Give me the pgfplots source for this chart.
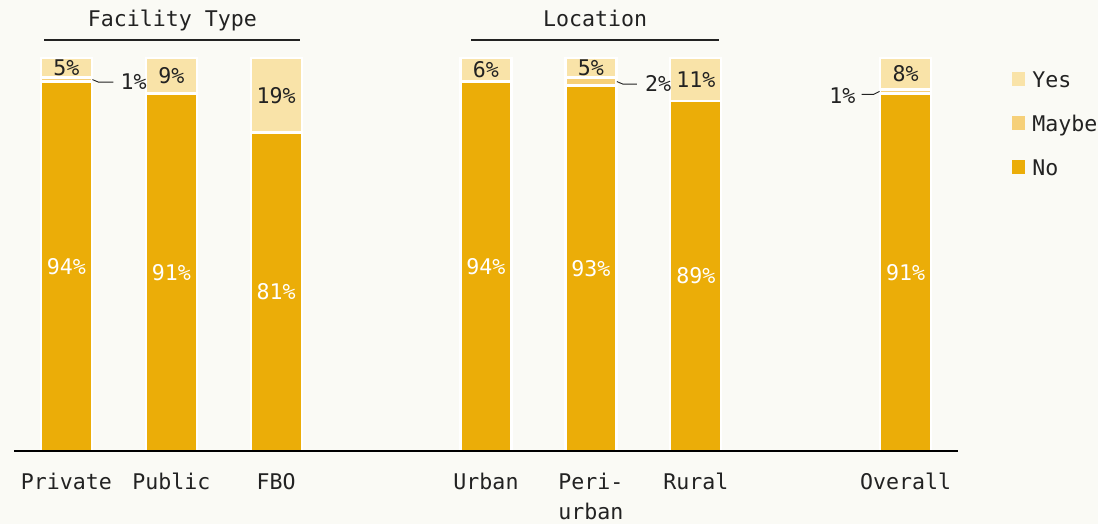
\documentclass[border=0pt]{standalone}
\usepackage{pgfplots}
\pgfplotsset{compat=1.18}
\usepackage{pgfplotstable}
\usepackage{fontspec}
\setmainfont{DejaVu Sans Mono}
\definecolor{bg}{RGB}{250,250,245}
\definecolor{cno}{RGB}{235,173,8}
\definecolor{cmaybe}{RGB}{246,208,121}
\definecolor{cyes}{RGB}{249,227,168}
\definecolor{txt}{RGB}{34,34,34}

\pgfplotstableread{
x No Maybe Yes
0 94 1 5
1 91 0 9
2 81 0 19
4 94 0 6
5 93 2 5
6 89 0 11
8 91 1 8
}\data
\pgfplotstableread{
x y lab
0 93.9 1
5 93.4 2
}\mayberight
\pgfplotstableread{
x y lab
8 90.3 1
}\maybeleft

\pgfplotsset{mybar/.style={ybar, bar width=51pt, bar shift=0pt, draw=white, line width=2.4pt}}

\begin{document}
\color{txt}
\fontsize{21.6}{30}\selectfont
\begin{tikzpicture}[font=\fontsize{21.6}{30}\selectfont]
\fill[bg] (0,0) rectangle (1098pt,524pt);
\begin{axis}[
  at={(14pt,73pt)}, anchor=south west,
  scale only axis, width=944pt, height=393pt,
  xmin=-0.5, xmax=8.5, ymin=0, ymax=100,
  clip=false,
  axis x line*=bottom, axis y line=none,
  x axis line style={-, line width=1.2pt, draw=black},
  axis on top,
  xtick={0,1,2,4,5,6,8},
  xticklabels={Private,Public,FBO,Urban,{Peri-\\urban},Rural,Overall},
  xticklabel style={anchor=north, align=center, yshift=-22pt, inner sep=0pt, font=\fontsize{21.6}{30}\selectfont, text=txt},
  major tick length=0pt,
  ytick=\empty,
  /pgf/number format/assume math mode=true,
  legend cell align=left,
  legend style={at={(axis description cs:1.057,0.967)}, anchor=north west, draw=none, fill=none, inner sep=0pt, row sep=28pt, column sep=7pt,
     nodes={inner sep=0pt, text height=16pt, text depth=0pt, font=\fontsize{21.6}{30}\selectfont, text=txt}},
]
\addplot[mybar, fill=cyes, legend image code/.code={\fill[cyes] (0pt,-5.5pt) rectangle (11pt,5.5pt);}]
  table[x=x, y expr=\thisrow{No}+\thisrow{Maybe}+\thisrow{Yes}] {\data};
\addlegendentry{Yes}
\addplot[mybar, fill=cmaybe, legend image code/.code={\fill[cmaybe] (0pt,-5.5pt) rectangle (11pt,5.5pt);}]
  table[x=x, y expr=\thisrow{No}+\thisrow{Maybe}] {\data};
\addlegendentry{Maybe}
\addplot[mybar, fill=cno, legend image code/.code={\fill[cno] (0pt,-5.5pt) rectangle (11pt,5.5pt);}]
  table[x=x, y=No] {\data};
\addlegendentry{No}

% labels inside No
\addplot[draw=none, mark=none, forget plot, point meta=explicit,
  nodes near coords={\pgfmathprintnumber{\pgfplotspointmeta}\%},
  every node near coord/.append style={anchor=center, text=white, inner sep=0pt}]
  table[x=x, y expr=\thisrow{No}/2, meta=No] {\data};
% labels inside Yes
\addplot[draw=none, mark=none, forget plot, point meta=explicit,
  nodes near coords={\pgfmathprintnumber{\pgfplotspointmeta}\%},
  every node near coord/.append style={anchor=center, text=txt, inner sep=0pt}]
  table[x=x, y expr=\thisrow{No}+\thisrow{Maybe}+\thisrow{Yes}/2, meta=Yes] {\data};
% maybe labels
\addplot[draw=none, mark=none, forget plot, point meta=explicit,
  nodes near coords={\pgfmathprintnumber{\pgfplotspointmeta}\%},
  every node near coord/.append style={anchor=west, xshift=54pt, text=txt, inner sep=0pt}]
  table[x=x, y=y, meta=lab] {\mayberight};
\addplot[draw=none, mark=none, forget plot, point meta=explicit,
  nodes near coords={\pgfmathprintnumber{\pgfplotspointmeta}\%},
  every node near coord/.append style={anchor=east, xshift=-50pt, text=txt, inner sep=0pt}]
  table[x=x, y=y, meta=lab] {\maybeleft};

% leader lines
\draw[line width=0.9pt, txt] ([xshift=26pt]axis cs:0,94.5) -- ([xshift=32pt,yshift=-2.5pt]axis cs:0,94.5) -- ([xshift=47pt,yshift=-2.5pt]axis cs:0,94.5);
\draw[line width=0.9pt, txt] ([xshift=26pt]axis cs:5,94) -- ([xshift=32pt,yshift=-2.5pt]axis cs:5,94) -- ([xshift=46pt,yshift=-2.5pt]axis cs:5,94);
\draw[line width=0.9pt, txt] ([xshift=-26pt]axis cs:8,91.5) -- ([xshift=-32pt,yshift=-3pt]axis cs:8,91.5) -- ([xshift=-44pt,yshift=-3pt]axis cs:8,91.5);

% group headers
\node[anchor=base, text=txt] at (axis cs:1.01,108.1) {Facility Type};
\draw[line width=1.3pt, txt] (axis cs:-0.21,104.6) -- (axis cs:2.23,104.6);
\node[anchor=base, text=txt] at (axis cs:5.04,108.1) {Location};
\draw[line width=1.3pt, txt] (axis cs:3.86,104.6) -- (axis cs:6.22,104.6);
\end{axis}
\pgfresetboundingbox
\path[use as bounding box] (0,0) rectangle (1098pt,524pt);
\end{tikzpicture}
\end{document}
